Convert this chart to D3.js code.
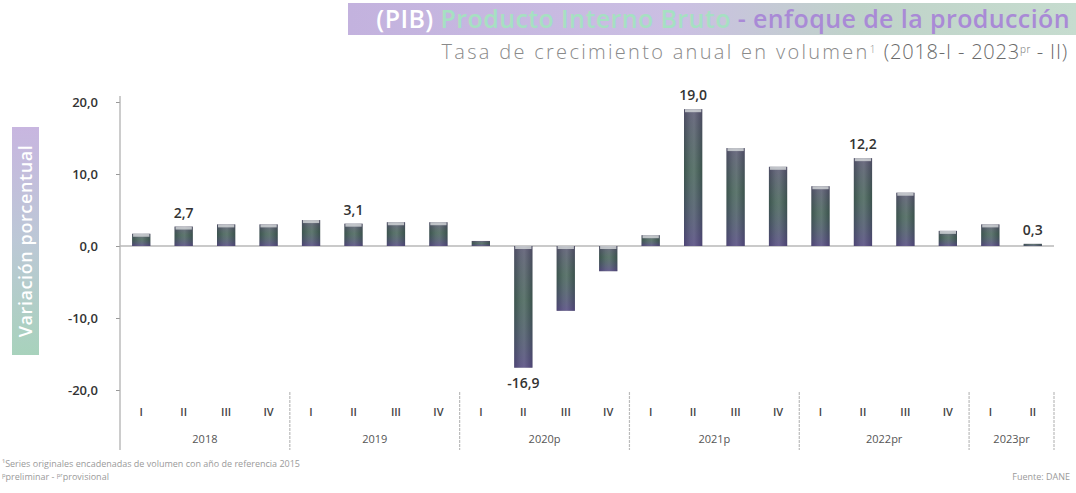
<!DOCTYPE html>
<html>
<head>
<meta charset="utf-8">
<script src="https://cdn.jsdelivr.net/npm/d3@7/dist/d3.min.js"></script>
<style>
  html, body { margin: 0; padding: 0; background: #ffffff; }
  svg { display: block; font-family: "Open Sans", "Noto Sans", sans-serif; }
</style>
</head>
<body>
<svg id="chart" width="1076" height="493"></svg>
<script>
const years = ["2018", "2019", "2020p", "2021p", "2022pr", "2023pr"];
const quartersPerYear = [4, 4, 4, 4, 4, 2];
const quarterNames = ["I", "II", "III", "IV"];
const values = [1.7, 2.7, 3.0, 3.0, 3.6, 3.1, 3.3, 3.3, 0.7, -16.9, -9.0, -3.5,
                1.5, 19.0, 13.6, 11.0, 8.3, 12.2, 7.4, 2.1, 3.0, 0.3];
const labelled = [1, 5, 9, 13, 17, 21];
const yTicks = [20, 10, 0, -10, -20];

const categories = [];
years.forEach((y, yi) => {
  for (let q = 0; q < quartersPerYear[yi]; q++) categories.push({ year: y, q: quarterNames[q], yi });
});
const data = categories.map((c, i) => ({ ...c, i, v: values[i] }));

const svg = d3.select("#chart");
const defs = svg.append("defs");

const x = d3.scaleBand().domain(data.map(d => d.i)).range([120, 1054]).paddingInner(0.57).paddingOuter(0.285);
const step = x.step();
const y = d3.scaleLinear().domain([-20, 20]).range([390, 102]);
const fmt = v => d3.format(".1f")(v).replace(".", ",").replace("\u2212", "-");

// gradients
const hg = defs.append("linearGradient").attr("id", "barH").attr("x1", 0).attr("x2", 1).attr("y1", 0).attr("y2", 0);
[[0, "#3a4244"], [0.35, "#5f6867"], [0.55, "#6a7271"], [1, "#383f41"]].forEach(s =>
  hg.append("stop").attr("offset", s[0]).attr("stop-color", s[1]));
const vg = defs.append("linearGradient").attr("id", "barV").attr("x1", 0).attr("x2", 0).attr("y1", 0).attr("y2", 1);
[[0, "#7a62b0", 0.3], [0.45, "#3f8a6a", 0.25], [1, "#6a48c0", 0.4]].forEach(s =>
  vg.append("stop").attr("offset", s[0]).attr("stop-color", s[1]).attr("stop-opacity", s[2]));

const tg = defs.append("linearGradient").attr("id", "titleBg").attr("x1", 0).attr("x2", 1);
[[0, "#c3b2de"], [0.45, "#cbbfe3"], [0.7, "#bfd3c9"], [1, "#c6dccf"]].forEach(s =>
  tg.append("stop").attr("offset", s[0]).attr("stop-color", s[1]));
const yg = defs.append("linearGradient").attr("id", "ylabBg").attr("x1", 0).attr("x2", 0).attr("y1", 0).attr("y2", 1);
[[0, "#c8b6e0"], [0.5, "#bcc8d6"], [1, "#a8d2bc"]].forEach(s =>
  yg.append("stop").attr("offset", s[0]).attr("stop-color", s[1]));

// Title
svg.append("rect").attr("x", 348).attr("y", 3).attr("width", 728).attr("height", 32).attr("fill", "url(#titleBg)");
const title = svg.append("text").attr("x", 1070).attr("y", 28).attr("text-anchor", "end")
  .attr("font-size", 25).attr("font-weight", 600).attr("letter-spacing", 0.4);
title.append("tspan").attr("fill", "#ffffff").text("(PIB) ");
title.append("tspan").attr("fill", "#a6e0c2").text("Producto Interno Bruto ");
title.append("tspan").attr("fill", "#a98ad6").text(" - enfoque de la producción");

const sub = svg.append("text").attr("x", 1068).attr("y", 59).attr("text-anchor", "end")
  .attr("font-size", 20).attr("font-weight", 300).attr("fill", "#8a8a8a").attr("letter-spacing", 2.3);
sub.append("tspan").text("Tasa de crecimiento anual en volumen");
sub.append("tspan").attr("font-size", 10).attr("dy", -6).text("1");
sub.append("tspan").attr("dy", 6).attr("fill", "#6a6a6a").attr("letter-spacing", 0.8).text(" (2018-I - 2023");
sub.append("tspan").attr("font-size", 10).attr("dy", -6).attr("fill", "#6a6a6a").attr("letter-spacing", 0.5).text("pr");
sub.append("tspan").attr("dy", 6).attr("fill", "#6a6a6a").attr("letter-spacing", 0.8).text(" - II)");

// Y label band
svg.append("rect").attr("x", 12).attr("y", 127).attr("width", 27).attr("height", 228).attr("fill", "url(#ylabBg)");
svg.append("text").attr("transform", "translate(32,241) rotate(-90)").attr("text-anchor", "middle")
  .attr("font-size", 18).attr("fill", "#ffffff").attr("font-weight", 600).attr("letter-spacing", 0.6)
  .text("Variación porcentual");

// Y axis
const yAxis = d3.axisLeft(y).tickValues(yTicks).tickFormat(fmt).tickSize(4).tickPadding(18);
const ga = svg.append("g").attr("transform", "translate(120,0)").call(yAxis);
ga.select(".domain").remove();
ga.selectAll(".tick line").attr("stroke", "#999");
ga.selectAll(".tick text").attr("font-size", 13).attr("fill", "#333").attr("font-weight", 600)
  .attr("font-family", "Open Sans, sans-serif");
svg.append("line").attr("x1", 120).attr("x2", 120).attr("y1", 96).attr("y2", 450).attr("stroke", "#aaa").attr("stroke-width", 1.2);

// zero line
svg.append("line").attr("x1", 120).attr("x2", 1054).attr("y1", y(0)).attr("y2", y(0))
  .attr("stroke", "#b8b8b8").attr("stroke-width", 1.5);

// bars
const bars = svg.append("g");
bars.selectAll("rect.base").data(data).join("rect").attr("class", "base")
  .attr("x", d => x(d.i)).attr("width", x.bandwidth())
  .attr("y", d => y(Math.max(0, d.v))).attr("height", d => Math.abs(y(d.v) - y(0)))
  .attr("fill", "url(#barH)");
bars.selectAll("rect.tint").data(data).join("rect").attr("class", "tint")
  .attr("x", d => x(d.i)).attr("width", x.bandwidth())
  .attr("y", d => y(Math.max(0, d.v))).attr("height", d => Math.abs(y(d.v) - y(0)))
  .attr("fill", "url(#barV)");
bars.selectAll("rect.cap").data(data.filter(d => Math.abs(d.v) > 0.8)).join("rect").attr("class", "cap")
  .attr("x", d => x(d.i) + 1).attr("width", x.bandwidth() - 2)
  .attr("y", d => d.v > 0 ? y(d.v) : y(0)).attr("height", 3)
  .attr("fill", "#d7dbdc").attr("opacity", 0.8);

// value labels
svg.append("g").selectAll("text").data(data.filter(d => labelled.includes(d.i))).join("text")
  .attr("x", d => x(d.i) + x.bandwidth() / 2)
  .attr("y", d => d.v >= 0 ? y(d.v) - 9 : y(d.v) + 20)
  .attr("text-anchor", "middle").attr("font-size", 14).attr("font-weight", 600).attr("fill", "#333")
  .text(d => fmt(d.v));

// quarter labels
svg.append("g").selectAll("text").data(data).join("text")
  .attr("x", d => x(d.i) + x.bandwidth() / 2).attr("y", 416)
  .attr("text-anchor", "middle").attr("font-size", 11).attr("font-weight", 600).attr("fill", "#444")
  .text(d => d.q);

// year groups
let start = 0;
const groups = years.map((yr, yi) => {
  const g = { yr, s: start, e: start + quartersPerYear[yi] - 1 };
  start += quartersPerYear[yi];
  return g;
});
svg.append("g").selectAll("text").data(groups).join("text")
  .attr("x", g => (x(g.s) + x(g.e) + x.bandwidth()) / 2).attr("y", 443)
  .attr("text-anchor", "middle").attr("font-size", 11).attr("fill", "#555")
  .text(g => g.yr);
svg.append("g").selectAll("line").data(groups).join("line")
  .attr("x1", g => x(g.e) + x.bandwidth() / 2 + step / 2).attr("x2", g => x(g.e) + x.bandwidth() / 2 + step / 2)
  .attr("y1", 392).attr("y2", 450).attr("stroke", "#bbb").attr("stroke-width", 1.2)
  .attr("stroke-dasharray", "3,1");

// footnotes
svg.append("text").attr("x", 2).attr("y", 467).attr("font-size", 9).attr("fill", "#9a9a9a")
  .text("¹Series originales encadenadas de volumen con año de referencia 2015");
svg.append("text").attr("x", 2).attr("y", 480).attr("font-size", 9).attr("fill", "#9a9a9a")
  .text("ᵖpreliminar - ᵖʳprovisional");
svg.append("text").attr("x", 1070).attr("y", 480).attr("text-anchor", "end").attr("font-size", 9).attr("fill", "#9a9a9a")
  .text("Fuente: DANE");
</script>
</body>
</html>
